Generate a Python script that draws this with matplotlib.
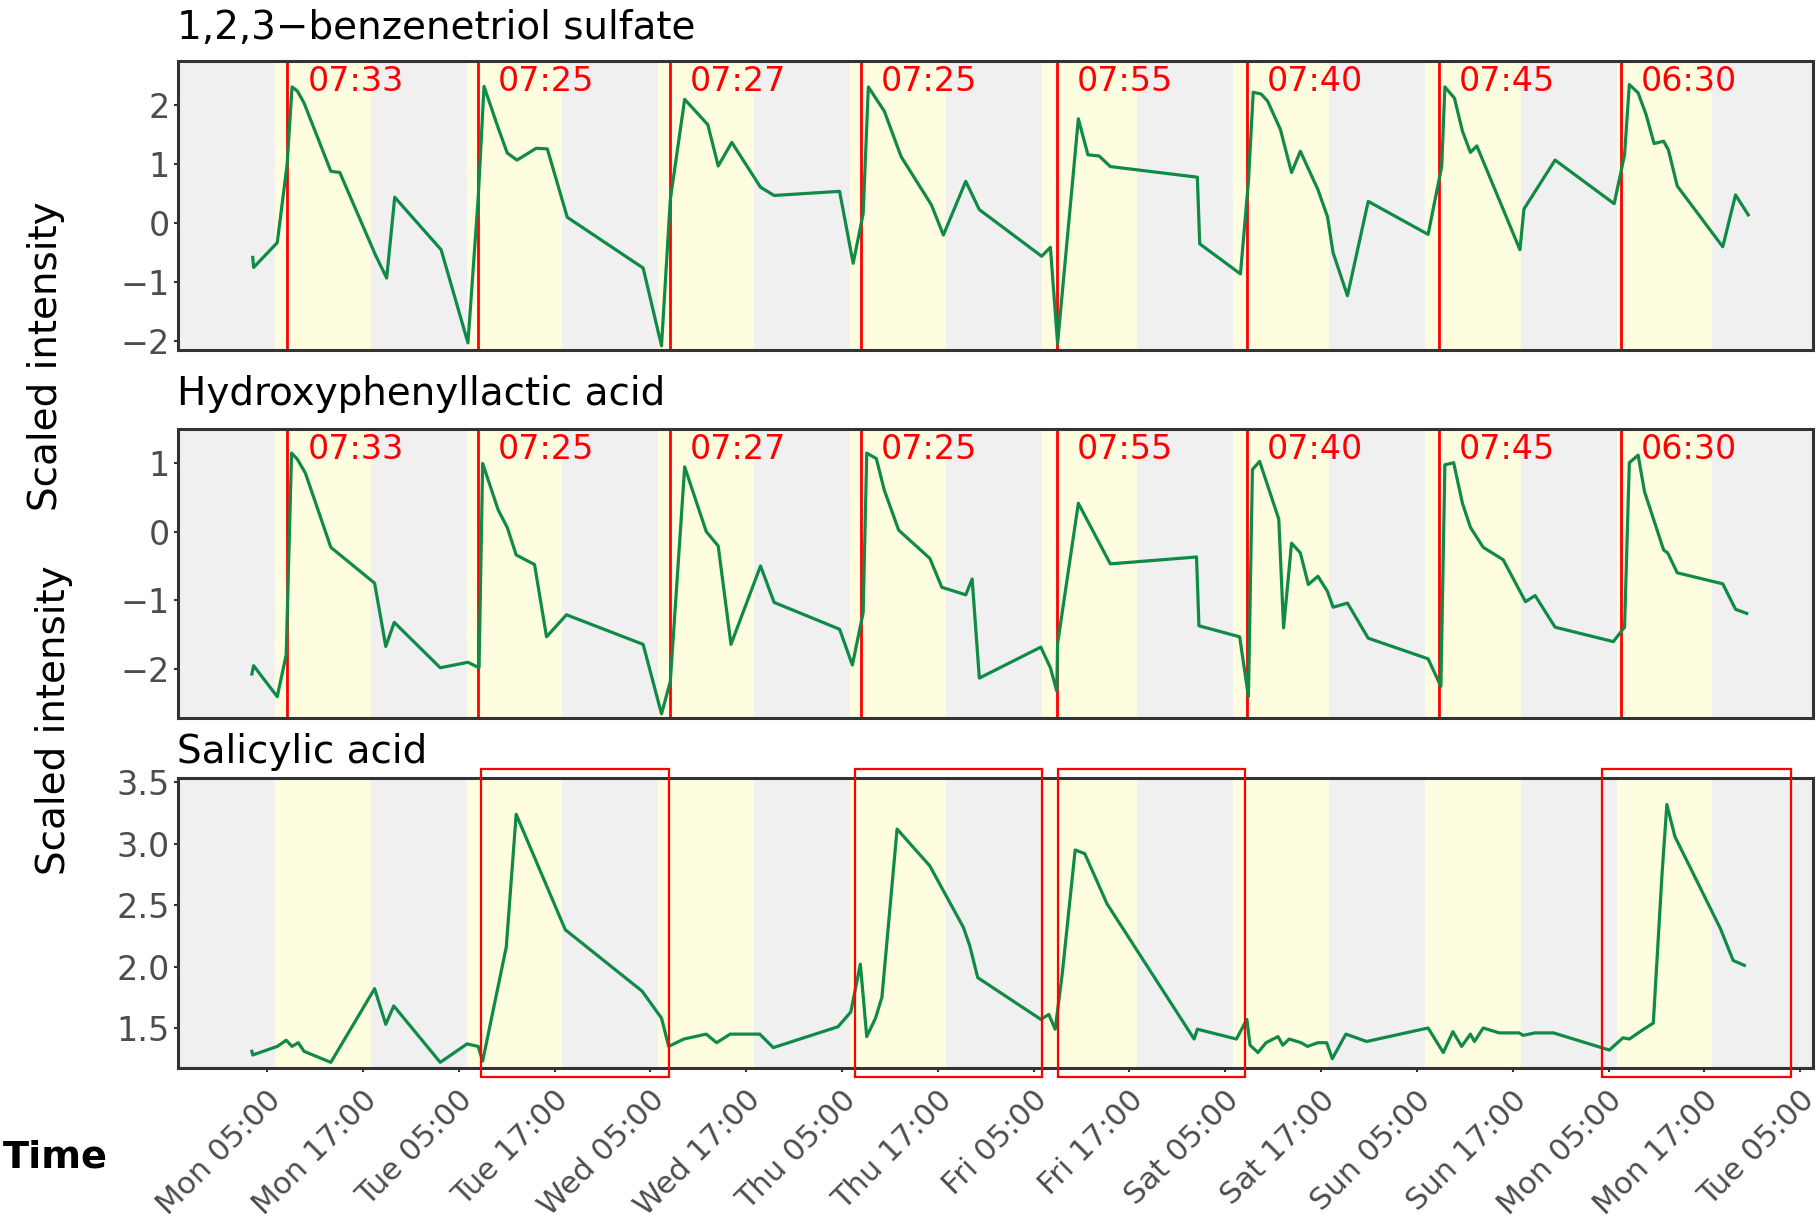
import numpy as np
import matplotlib
matplotlib.use("Agg")
import matplotlib.pyplot as plt
from matplotlib.patches import Rectangle
import matplotlib.transforms as mtransforms

plt.rcParams['font.family'] = ['DejaVu Sans']

# time axis: hours since Monday 00:00
p1_t = [3.21, 3.32, 6.28, 7.51, 8.13, 8.80, 9.63, 12.99, 14.11, 18.58, 19.98, 20.99, 26.8, 30.16,
        31.44, 32.17, 33.96, 35.08, 36.3, 38.7, 40.1, 42.6, 52.1, 54.4, 55.5, 57.3, 60.2, 61.5,
        63.2, 66.8, 68.5, 76.7, 78.4, 79.65, 80.3, 82.3, 84.4, 88.2, 89.7, 92.5, 94.2, 102.0,
        103.1, 104.0, 106.6, 107.8, 109.2, 110.6, 121.5, 121.8, 126.9, 127.9, 128.5, 129.5,
        130.3, 131.9, 133.3, 134.4, 136.6, 137.8, 138.5, 140.3, 142.9, 150.4, 152.1, 152.5,
        153.7, 154.7, 155.7, 156.5, 161.9, 162.4, 166.3, 173.7, 175.0, 175.6, 176.7, 177.7,
        178.7, 179.9, 180.5, 181.6, 187.3, 188.9, 190.5]
p1_y = [-0.58, -0.75, -0.33, 0.99, 2.31, 2.24, 2.04, 0.88, 0.86, -0.54, -0.93, 0.44, -0.45, -2.03,
        0.42, 2.32, 1.61, 1.19, 1.07, 1.27, 1.26, 0.10, -0.76, -2.08, 0.40, 2.10, 1.67, 0.97,
        1.37, 0.61, 0.47, 0.54, -0.68, 0.16, 2.31, 1.90, 1.13, 0.31, -0.20, 0.71, 0.23, -0.56,
        -0.41, -2.04, 1.77, 1.16, 1.14, 0.96, 0.78, -0.35, -0.86, 0.71, 2.22, 2.19,
        2.07, 1.59, 0.86, 1.22, 0.57, 0.11, -0.50, -1.23, 0.37, -0.19, 0.96, 2.31,
        2.12, 1.56, 1.20, 1.31, -0.45, 0.24, 1.07, 0.33, 1.16, 2.35, 2.21, 1.84,
        1.35, 1.39, 1.24, 0.63, -0.40, 0.48, 0.14]

p2_t = [3.10, 3.32, 6.28, 7.40, 8.07, 8.80, 9.80, 12.99, 18.47, 19.87, 20.93, 26.69, 30.16, 31.55,
        32.0, 33.96, 35.08, 36.2, 38.5, 40.0, 42.5, 52.1, 54.4, 55.5, 57.3, 60.0, 61.5, 63.1,
        66.8, 68.5, 76.7, 78.3, 79.65, 80.1, 81.3, 82.3, 84.1, 88.0, 89.5, 92.5, 93.3, 94.2,
        101.9, 103.1, 103.9, 104.0, 106.6, 110.6, 121.4, 121.7, 126.8, 127.9, 128.4, 129.3,
        131.7, 132.3, 133.3, 134.4, 135.4, 136.6, 137.8, 138.5, 140.3, 142.9, 150.4, 152.0,
        152.5, 153.6, 154.7, 155.7, 157.3, 159.8, 162.6, 163.8, 166.3, 173.6, 175.0, 175.6,
        176.7, 177.5, 179.9, 180.4, 181.6, 187.3, 188.9, 190.3]
p2_y = [-2.07, -1.95, -2.40, -1.79, 1.14, 1.05, 0.85, -0.23, -0.75, -1.67, -1.32, -1.98, -1.90, -1.98,
        0.99, 0.31, 0.06, -0.34, -0.48, -1.53, -1.21, -1.64, -2.65, -2.18, 0.94, 0.0, -0.21, -1.64,
        -0.50, -1.03, -1.42, -1.94, -1.18, 1.14, 1.06, 0.60, 0.02, -0.39, -0.81, -0.92, -0.69, -2.13,
        -1.68, -1.98, -2.32, -1.63, 0.41, -0.47, -0.37, -1.37, -1.53, -2.40, 0.90, 1.02,
        0.18, -1.40, -0.17, -0.31, -0.77, -0.65, -0.87, -1.10, -1.04, -1.55, -1.85, -2.25,
        0.97, 1.00, 0.41, 0.06, -0.23, -0.41, -1.02, -0.93, -1.39, -1.60, -1.39, 1.00,
        1.11, 0.58, -0.27, -0.31, -0.60, -0.76, -1.13, -1.19]

p3_t = [3.10, 3.21, 6.28, 7.40, 8.13, 8.91, 9.63, 12.99, 18.47, 19.87, 20.87, 26.69, 30.04, 31.44,
        32.0, 34.96, 36.2, 42.35, 51.97, 54.4, 55.3, 57.2, 60.0, 61.3, 63.0, 66.7, 68.4, 76.5,
        78.1, 79.3, 80.1, 81.2, 82.0, 83.9, 88.0, 92.2, 93.0, 94.0, 101.9, 102.9, 103.7, 104.6,
        106.2, 107.4, 110.2, 121.1, 121.5, 126.4, 127.7, 128.1, 129.1, 130.1, 131.6, 132.2,
        133.0, 134.5, 135.3, 136.6, 137.7, 138.4, 140.1, 142.7, 150.4, 152.3, 153.5, 154.6,
        155.7, 156.2, 157.3, 159.3, 161.8, 162.3, 163.8, 166.1, 173.1, 174.8, 175.6, 177.4,
        178.6, 179.7, 180.3, 181.3, 187.0, 188.6, 190.0]
p3_y = [1.31, 1.28, 1.35, 1.40, 1.35, 1.38, 1.31, 1.22, 1.82, 1.53, 1.68, 1.22, 1.37, 1.35,
        1.23, 2.16, 3.24, 2.30, 1.80, 1.58, 1.35, 1.41, 1.45, 1.38, 1.45, 1.45, 1.34, 1.51,
        1.63, 2.02, 1.43, 1.58, 1.75, 3.12, 2.82, 2.32, 2.17, 1.91, 1.57, 1.61, 1.49, 1.95,
        2.95, 2.92, 2.51, 1.41, 1.49, 1.41, 1.57, 1.36, 1.30, 1.38, 1.43, 1.36,
        1.41, 1.38, 1.35, 1.38, 1.38, 1.25, 1.45, 1.39, 1.50, 1.30, 1.47, 1.35,
        1.45, 1.39, 1.50, 1.46, 1.46, 1.44, 1.46, 1.46, 1.32, 1.42, 1.41, 1.49,
        1.54, 2.76, 3.32, 3.06, 2.31, 2.05, 2.01]

titles = ['1,2,3\u2212benzenetriol sulfate', 'Hydroxyphenyllactic acid', 'Salicylic acid']

wake_days = [0, 1, 2, 3, 4, 5, 6, 7]
wake_labels = ['07:33', '07:25', '07:27', '07:25', '07:55', '07:40', '07:45', '06:30']
light_on, light_off = 6, 18

box_start = [31.8, 78.6, 104.0, 172.2]
box_end = [55.4, 102.1, 127.5, 195.9]

tick_hours = [5 + 12 * i for i in range(17)]
tick_labels = ['Mon 05:00', 'Mon 17:00', 'Tue 05:00', 'Tue 17:00', 'Wed 05:00', 'Wed 17:00',
               'Thu 05:00', 'Thu 17:00', 'Fri 05:00', 'Fri 17:00', 'Sat 05:00', 'Sat 17:00',
               'Sun 05:00', 'Sun 17:00', 'Mon 05:00', 'Mon 17:00', 'Tue 05:00']

wake_h = [d * 24 + int(s[:2]) + int(s[3:]) / 60 for d, s in zip(wake_days, wake_labels)]

W, H = 1818, 1220
fig = plt.figure(figsize=(W / 100, H / 100), dpi=100)

GREEN = '#0f8a47'
GREY_TXT = '#4d4d4d'
DARK = '#333333'


def make_ax(top, bottom):
    return fig.add_axes([178 / W, 1 - bottom / H, (1813 - 178) / W, (bottom - top) / H])


panels = [
    (make_ax(61, 350), p1_t, p1_y, (-2.15, 2.75), [-2, -1, 0, 1, 2], True, 39),
    (make_ax(429, 718), p2_t, p2_y, (-2.71, 1.49), [-2, -1, 0, 1], True, 405),
    (make_ax(778, 1068), p3_t, p3_y, (1.174, 3.536), [1.5, 2.0, 2.5, 3.0, 3.5], False, 763),
]

for i, (ax, t, y, ylim, yticks, wake, title_y) in enumerate(panels):
    ax.set_facecolor('#f0f0f0')
    for d in range(8):
        ax.axvspan(d * 24 + light_on, d * 24 + light_off, color='#fffde0', lw=0, zorder=0)
    if wake:
        for wh, lab in zip(wake_h, wake_labels):
            ax.axvline(wh, color='red', lw=2.0, zorder=2)
            ax.text(wh + 2.5, 0.93, lab, color='red', fontsize=24, ha='left', va='center',
                    transform=ax.get_xaxis_transform(), zorder=4)
    ax.plot(t, y, color=GREEN, lw=2.3, zorder=3)
    ax.set_xlim(-6.15, 198.6)
    ax.set_ylim(*ylim)
    ax.set_yticks(yticks)
    if i == 2:
        ax.set_yticklabels(['%.1f' % v for v in yticks])
    for sp in ax.spines.values():
        sp.set_color(DARK)
        sp.set_linewidth(2.2)
    ax.tick_params(axis='y', length=3, width=1.5, color=DARK, pad=3, labelsize=24,
                   labelcolor=GREY_TXT)
    fig.text(177 / W, 1 - title_y / H, titles[i], fontsize=28, ha='left', va='baseline')

ax3 = panels[2][0]
ax3.set_xticks(tick_hours)
ax3.set_xticklabels(tick_labels, rotation=45, ha='right', va='top', rotation_mode='anchor')
ax3.tick_params(axis='x', length=3, width=1.5, color=DARK, pad=3, labelsize=22,
                labelcolor=GREY_TXT)
shift = mtransforms.ScaledTranslation(-1 / 100, -9 / 100, fig.dpi_scale_trans)
for lab in ax3.get_xticklabels():
    lab.set_transform(lab.get_transform() + shift)
for ax in (panels[0][0], panels[1][0]):
    ax.set_xticks([])

for x0, x1 in zip(box_start, box_end):
    ax3.add_patch(Rectangle((x0, 1.10), x1 - x0, 2.51, fill=False, ec='red', lw=1.6,
                            clip_on=False, zorder=5))

fig.text(46 / W, 1 - 356 / H, 'Scaled intensity', rotation=90, fontsize=28, ha='center', va='center')
fig.text(54 / W, 1 - 720 / H, 'Scaled intensity', rotation=90, fontsize=28, ha='center', va='center')
fig.text(3 / W, 1 - 1167 / H, 'Time', fontsize=27.5, fontweight='bold', ha='left', va='baseline')

fig.savefig('out.png', dpi=100)
